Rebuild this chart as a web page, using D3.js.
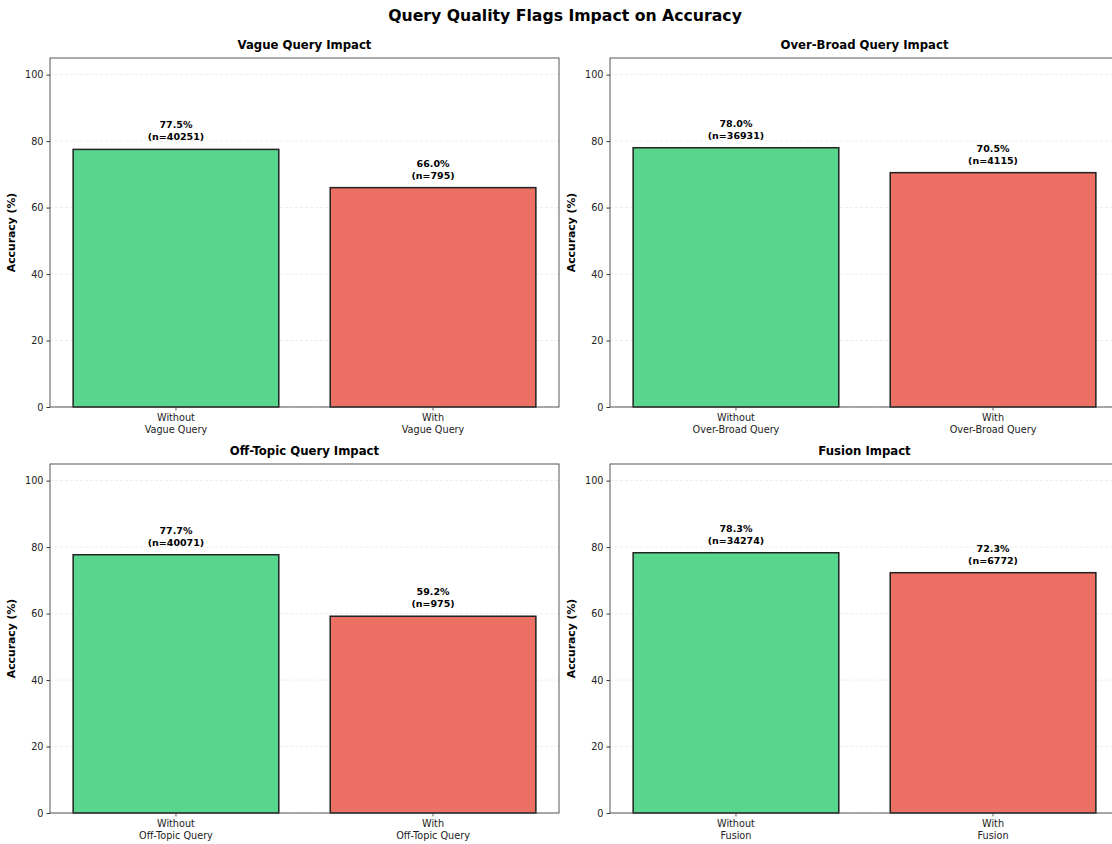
<!DOCTYPE html>
<html>
<head>
<meta charset="utf-8">
<script src="https://cdn.jsdelivr.net/npm/d3@7"></script>
<style>
  html, body { margin: 0; padding: 0; background: #fff; overflow: hidden; }
  svg { display: block; font-family: "DejaVu Sans", sans-serif; }
</style>
</head>
<body>
<svg id="chart" width="1112" height="844"></svg>
<script>
const panelTitles = ["Vague Query Impact", "Over-Broad Query Impact", "Off-Topic Query Impact", "Fusion Impact"];
const flagNames = ["Vague Query", "Over-Broad Query", "Off-Topic Query", "Fusion"];
const categories = ["Without", "With"];
const accuracyWithout = [77.5, 78.0, 77.7, 78.3];
const accuracyWith = [66.0, 70.5, 59.2, 72.3];
const countWithout = [40251, 36931, 40071, 34274];
const countWith = [795, 4115, 975, 6772];
const yTicks = [0, 20, 40, 60, 80, 100];
const barColors = ["#58d68d", "#ec7063"];

const svg = d3.select("#chart");
svg.append("text").attr("x", 565).attr("y", 21).attr("text-anchor", "middle")
  .attr("font-size", 15.7).attr("font-weight", "bold").text("Query Quality Flags Impact on Accuracy");

const W = 509, H = 349;
const origins = [[50, 58], [610, 58], [50, 464], [610, 464]];

panelTitles.forEach((title, i) => {
  const [ox, oy] = origins[i];
  const g = svg.append("g").attr("transform", `translate(${ox},${oy})`);
  const x = d3.scaleLinear().domain([-0.49, 1.49]).range([0, W]);
  const y = d3.scaleLinear().domain([0, 105]).range([H, 0]);
  const data = [
    { k: 0, cat: categories[0], v: accuracyWithout[i], n: countWithout[i] },
    { k: 1, cat: categories[1], v: accuracyWith[i], n: countWith[i] }
  ];

  // grid
  g.selectAll(".grid").data(yTicks).enter().append("line")
    .attr("x1", 0).attr("x2", W).attr("y1", d => y(d)).attr("y2", d => y(d))
    .attr("stroke", "#b0b0b0").attr("stroke-opacity", 0.3).attr("stroke-width", 0.8)
    .attr("stroke-dasharray", "3,2");

  // bars
  g.selectAll(".bar").data(data).enter().append("rect")
    .attr("x", d => x(d.k - 0.4)).attr("width", x(0.4) - x(-0.4))
    .attr("y", d => y(d.v)).attr("height", d => y(0) - y(d.v))
    .attr("fill", (d, j) => barColors[j]).attr("stroke", "#222").attr("stroke-width", 1.5);

  // labels
  data.forEach(d => {
    const t = g.append("text").attr("x", x(d.k)).attr("text-anchor", "middle")
      .attr("font-size", 9.5).attr("font-weight", "bold").attr("fill", "#000");
    t.append("tspan").attr("x", x(d.k)).attr("y", y(d.v) - 21).text(d.v.toFixed(1) + "%");
    t.append("tspan").attr("x", x(d.k)).attr("y", y(d.v) - 9).text(`(n=${d.n})`);
  });

  // y axis
  const ya = g.append("g").call(d3.axisLeft(y).tickValues(yTicks).tickSize(3.5).tickPadding(3));
  ya.select(".domain").remove();
  ya.selectAll("text").attr("font-size", 9.7).attr("fill", "#222").attr("font-family", "DejaVu Sans");
  ya.selectAll("line").attr("stroke", "#333");

  // x axis ticks
  data.forEach(d => {
    g.append("line").attr("x1", x(d.k)).attr("x2", x(d.k)).attr("y1", H).attr("y2", H + 3.5)
      .attr("stroke", "#333").attr("stroke-width", 0.8);
    const t = g.append("text").attr("text-anchor", "middle").attr("font-size", 9.7).attr("fill", "#222");
    t.append("tspan").attr("x", x(d.k)).attr("y", H + 14).text(d.cat);
    t.append("tspan").attr("x", x(d.k)).attr("y", H + 26).text(flagNames[i]);
  });

  // frame
  g.append("rect").attr("x", 0).attr("y", 0).attr("width", W).attr("height", H)
    .attr("fill", "none").attr("stroke", "#444").attr("stroke-width", 0.9);

  // titles
  g.append("text").attr("x", W / 2).attr("y", -9).attr("text-anchor", "middle")
    .attr("font-size", 11.7).attr("font-weight", "bold").text(title);
  g.append("text").attr("transform", `translate(-35,${H / 2}) rotate(-90)`)
    .attr("text-anchor", "middle").attr("font-size", 10.8).attr("font-weight", "bold").text("Accuracy (%)");
});
</script>
</body>
</html>
